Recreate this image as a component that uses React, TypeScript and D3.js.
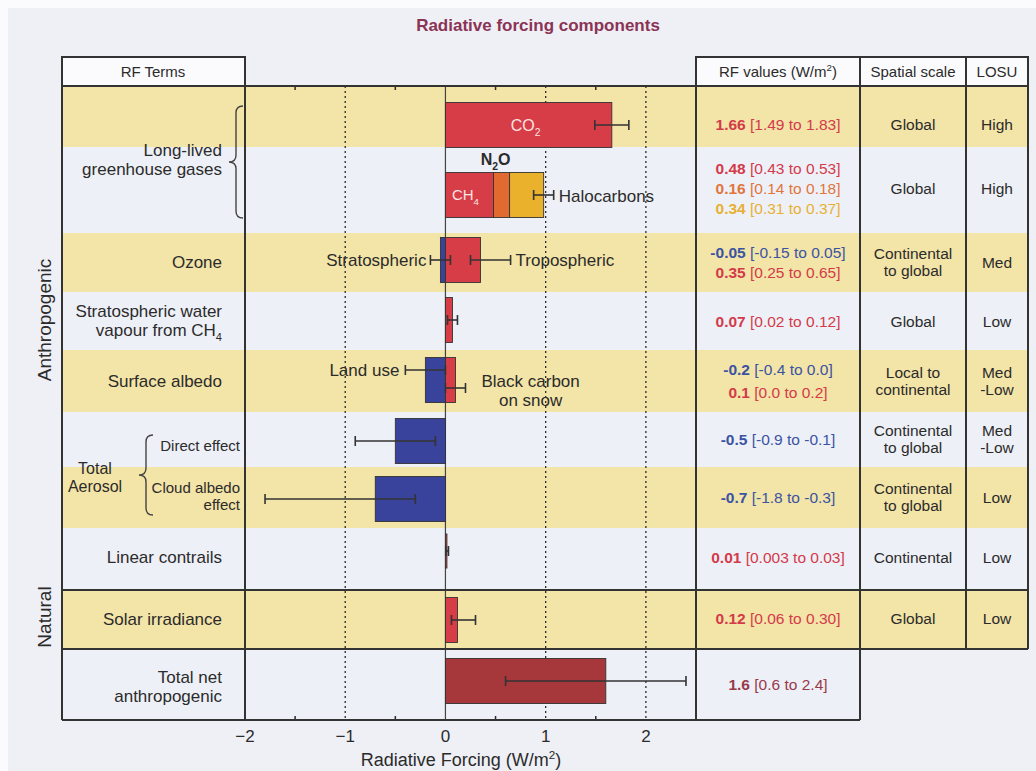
import React from 'react';
import * as d3 from 'd3';

// RF terms, in the order they are drawn and listed in the table
const terms = [
  'CO2', 'CH4', 'N2O', 'Halocarbons',
  'Stratospheric ozone', 'Tropospheric ozone',
  'Stratospheric water vapour',
  'Land use', 'Black carbon on snow',
  'Direct effect', 'Cloud albedo effect',
  'Linear contrails', 'Solar irradiance', 'Total net anthropogenic',
];
const rfBest = [1.66, 0.48, 0.16, 0.34, -0.05, 0.35, 0.07, -0.2, 0.1, -0.5, -0.7, 0.01, 0.12, 1.6];
const rfLow = [1.49, 0.43, 0.14, 0.31, -0.15, 0.25, 0.02, -0.4, 0.0, -0.9, -1.8, 0.003, 0.06, 0.6];
const rfHigh = [1.83, 0.53, 0.18, 0.37, 0.05, 0.65, 0.12, 0.0, 0.2, -0.1, -0.3, 0.03, 0.30, 2.4];
const rfDecimals = [2, 2, 2, 2, 2, 2, 2, 1, 1, 1, 1, 2, 2, 1];
const termRow = [0, 1, 1, 1, 2, 2, 3, 4, 4, 5, 6, 7, 8, 9];
const termKind = ['warm', 'warm', 'n2o', 'halo', 'cool', 'warm', 'warm', 'cool', 'warm', 'cool', 'cool', 'warm', 'warm', 'total'];
// the CH4 / N2O / halocarbon bars are stacked on one line
const stackedTerms = ['CH4', 'N2O', 'Halocarbons'];

const spatialScale = ['Global', 'Global', 'Continental|to global', 'Global', 'Local to|continental',
  'Continental|to global', 'Continental|to global', 'Continental', 'Global', ''];
const losu = ['High', 'High', 'Med', 'Low', 'Med|-Low', 'Med|-Low', 'Low', 'Low', 'Low', ''];

const xDomain = [-2, 2.5];
const xTickValues = [-2, -1, 0, 1, 2];
const xMinorTicks = [-1.5, -0.5, 0.5, 1.5];
const gridValues = [-1, 1, 2];

// ---- layout ----
const W = 1036, H = 771;
const YELLOW = '#f3e4a7';
const WHITE = '#eef0f7';
const PAGE = '#eff0f6';
const INK = '#2b2b2b';
const FONT = '"Liberation Sans", Arial, Helvetica, sans-serif';

const kindFill: Record<string, string> = {
  warm: '#d63d47', n2o: '#e06a30', halo: '#e9b12c', cool: '#39439b', total: '#a6383c',
};
const kindText: Record<string, string> = {
  warm: '#d33a4a', n2o: '#e0763c', halo: '#e7b032', cool: '#3a53a3', total: '#983a4a',
};

const ROWS = [
  { top: 86, bottom: 147, bar: 125, text: 124 },
  { top: 147, bottom: 233, bar: 195, text: 188 },
  { top: 233, bottom: 292, bar: 260, text: 262 },
  { top: 292, bottom: 350, bar: 320, text: 321 },
  { top: 350, bottom: 412, bar: 380, text: 381 },
  { top: 412, bottom: 467, bar: 441, text: 439 },
  { top: 467, bottom: 528, bar: 499, text: 497 },
  { top: 528, bottom: 590, bar: 551, text: 557 },
  { top: 590, bottom: 649, bar: 620, text: 618 },
  { top: 649, bottom: 720, bar: 681, text: 684 },
];
const errOffset: Record<string, number> = { 'Land use': -10, 'Black carbon on snow': 8 };

const COL = { left: 62, chartL: 245, chartR: 696, rf: 696, spatial: 860, losu: 966, right: 1028 };
const HEAD_TOP = 57, HEAD_BOT = 86;

const termLabels = [
  { lines: ['Long-lived', 'greenhouse gases'], x: 222, y: 159, size: 17 },
  { lines: ['Ozone'], x: 222, y: 262, size: 17 },
  { lines: ['Stratospheric water', 'vapour from CH_4'], x: 222, y: 320, size: 17 },
  { lines: ['Surface albedo'], x: 222, y: 381, size: 17 },
  { lines: ['Direct effect'], x: 240, y: 446, size: 15 },
  { lines: ['Cloud albedo', 'effect'], x: 240, y: 496, size: 15 },
  { lines: ['Linear contrails'], x: 222, y: 557, size: 17 },
  { lines: ['Solar irradiance'], x: 222, y: 619, size: 17 },
  { lines: ['Total net', 'anthropogenic'], x: 222, y: 686, size: 17 },
];

// text with "_x" subscripts and "^x" superscripts
function Rich({ s, size }: { s: string; size: number }) {
  const parts: React.ReactNode[] = [];
  const re = /([_^])(\w)/g;
  let last = 0;
  let carry = 0;
  let m: RegExpExecArray | null;
  let k = 0;
  while ((m = re.exec(s))) {
    const d = m[1] === '_' ? size * 0.3 : -size * 0.4;
    if (m.index > last) {
      parts.push(<tspan key={k++} dy={carry || undefined}>{s.slice(last, m.index)}</tspan>);
      carry = 0;
    }
    parts.push(<tspan key={k++} dy={carry + d} fontSize={size * 0.65}>{m[2]}</tspan>);
    carry = -d;
    last = m.index + 2;
  }
  if (last < s.length) parts.push(<tspan key={k++} dy={carry || undefined}>{s.slice(last)}</tspan>);
  return <>{parts}</>;
}

function Lines({ lines, x, y, size, anchor = 'end', fill = INK, gap = 1.12, weight = 'normal' }:
  { lines: string[]; x: number; y: number; size: number; anchor?: string; fill?: string; gap?: number; weight?: string }) {
  const lh = size * gap;
  const y0 = y - ((lines.length - 1) * lh) / 2 + size * 0.36;
  return (
    <text textAnchor={anchor} fontSize={size} fill={fill} fontWeight={weight}>
      {lines.map((l, i) => (
        <tspan key={i} x={x} y={y0 + i * lh}>
          <Rich s={l} size={size} />
        </tspan>
      ))}
    </text>
  );
}

function brace(x: number, y1: number, y2: number, w: number) {
  const ym = (y1 + y2) / 2;
  return `M${x + w},${y1} Q${x},${y1} ${x},${y1 + w} L${x},${ym - w} Q${x},${ym} ${x - w},${ym}`
    + ` Q${x},${ym} ${x},${ym + w} L${x},${y2 - w} Q${x},${y2} ${x + w},${y2}`;
}

function fmt(v: number, dec: number) {
  let s = v.toFixed(dec);
  if (+s !== v) s = String(v);
  return s;
}

export default function App() {
  const x = d3.scaleLinear().domain(xDomain).range([COL.chartL, COL.chartR]);

  // bar extents: stacked terms start where the previous one ends
  const bars = terms.map((t, i) => {
    let x0 = 0;
    const si = stackedTerms.indexOf(t);
    if (si > 0) x0 = d3.sum(stackedTerms.slice(0, si), s => rfBest[terms.indexOf(s)]);
    return { term: t, i, x0, x1: x0 + rfBest[i], row: termRow[i], kind: termKind[i] };
  });

  // error bars: one combined bar for the stacked gases
  const stackIdx = stackedTerms.map(s => terms.indexOf(s));
  const errors = terms
    .map((t, i) => ({ term: t, lo: rfLow[i], hi: rfHigh[i], row: termRow[i] }))
    .filter(e => !stackedTerms.includes(e.term));
  errors.push({
    term: 'stack',
    lo: d3.sum(stackIdx, i => rfLow[i]),
    hi: d3.sum(stackIdx, i => rfHigh[i]),
    row: termRow[stackIdx[0]],
  });

  const barH = (t: string) => (t === 'Linear contrails' ? 34 : 45);

  return (
    <svg width={W} height={H} style={{ position: 'absolute', left: 0, top: 0 }} fontFamily={FONT}>
      <rect width={W} height={H} fill="#fbfbfd" />
      <rect x={8} y={8} width={W - 8} height={H - 8} fill={PAGE} />

      <text x={538} y={31} textAnchor="middle" fontSize={17} fontWeight="bold" fill="#8b3355">
        Radiative forcing components
      </text>

      {/* row stripes */}
      {ROWS.map((r, i) => (
        <rect key={i} x={COL.left} y={r.top} width={(i === 9 ? COL.spatial : COL.right) - COL.left}
          height={r.bottom - r.top} fill={i % 2 === 0 ? YELLOW : WHITE} />
      ))}
      <rect x={COL.left} y={HEAD_TOP} width={COL.chartL - COL.left} height={HEAD_BOT - HEAD_TOP} fill="#fbfbfd" />
      <rect x={COL.rf} y={HEAD_TOP} width={COL.right - COL.rf} height={HEAD_BOT - HEAD_TOP} fill="#fbfbfd" />

      {/* grid lines */}
      {gridValues.map(v => (
        <line key={v} x1={x(v)} x2={x(v)} y1={HEAD_BOT} y2={720} stroke={INK} strokeWidth={1.3} strokeDasharray="2,3" />
      ))}
      <line x1={x(0)} x2={x(0)} y1={HEAD_BOT} y2={720} stroke="#444" strokeWidth={1.2} />
      {xMinorTicks.map(v => (
        <g key={v}>
          <line x1={x(v)} x2={x(v)} y1={HEAD_BOT} y2={HEAD_BOT + 4} stroke={INK} strokeWidth={1.5} />
          <line x1={x(v)} x2={x(v)} y1={720} y2={716} stroke={INK} strokeWidth={1.5} />
        </g>
      ))}

      {/* bars */}
      {bars.map(b => {
        const r = ROWS[b.row];
        const h = barH(b.term);
        const xa = x(Math.min(b.x0, b.x1));
        const w = Math.max(Math.abs(x(b.x1) - x(b.x0)), 1.5);
        return (
          <rect key={b.term} x={xa} y={r.bar - h / 2} width={w} height={h}
            fill={kindFill[b.kind]} stroke="#333" strokeWidth={0.9} />
        );
      })}

      {/* error bars */}
      {errors.map(e => {
        const y = ROWS[e.row].bar + (errOffset[e.term] || 0);
        return (
          <g key={e.term} stroke="#333" strokeWidth={1.6}>
            <line x1={x(e.lo)} x2={x(e.hi)} y1={y} y2={y} />
            <line x1={x(e.lo)} x2={x(e.lo)} y1={y - 5} y2={y + 5} />
            <line x1={x(e.hi)} x2={x(e.hi)} y1={y - 5} y2={y + 5} />
          </g>
        );
      })}

      {/* in-chart labels */}
      <g fontSize={17} fill={INK}>
        <text x={x(0.8)} y={ROWS[0].bar + 6} textAnchor="middle" fill="#fbe3e3" fontSize={16}>
          <Rich s="CO_2" size={16} />
        </text>
        <text x={x(0.5)} y={165} textAnchor="middle" fontWeight="bold" fontSize={16}>
          <Rich s="N_2O" size={16} />
        </text>
        <text x={x(0.2)} y={ROWS[1].bar + 5} textAnchor="middle" fill="#fbe3e3" fontSize={15}>
          <Rich s="CH_4" size={15} />
        </text>
        <text x={x(d3.sum(stackIdx, i => rfHigh[i])) + 5} y={ROWS[1].bar + 7}>Halocarbons</text>
        <text x={x(rfLow[4]) - 4} y={ROWS[2].bar + 6} textAnchor="end">Stratospheric</text>
        <text x={x(rfHigh[5]) + 5} y={ROWS[2].bar + 6}>Tropospheric</text>
        <text x={x(rfLow[7]) - 6} y={ROWS[4].bar - 4} textAnchor="end">Land use</text>
        <text x={x(0.85)} y={ROWS[4].bar + 7} textAnchor="middle">Black carbon</text>
        <text x={x(0.85)} y={ROWS[4].bar + 26} textAnchor="middle">on snow</text>
      </g>

      {/* left term labels */}
      {termLabels.map((l, i) => (
        <Lines key={i} lines={l.lines} x={l.x} y={l.y} size={l.size} />
      ))}
      <Lines lines={['Total', 'Aerosol']} x={95} y={477} size={16} anchor="middle" />
      <path d={brace(236, 106, 218, 7)} fill="none" stroke="#444" strokeWidth={1.4} />
      <path d={brace(146, 435, 515, 7)} fill="none" stroke="#444" strokeWidth={1.4} />

      <text transform={`translate(51,320) rotate(-90)`} textAnchor="middle" fontSize={19} fill={INK}>Anthropogenic</text>
      <text transform={`translate(51,617) rotate(-90)`} textAnchor="middle" fontSize={19} fill={INK}>Natural</text>

      {/* headers */}
      <g fontSize={15} fill={INK} textAnchor="middle">
        <text x={153} y={77}>RF Terms</text>
        <text x={(COL.rf + COL.spatial) / 2} y={77}><Rich s="RF values (W/m^2)" size={15} /></text>
        <text x={(COL.spatial + COL.losu) / 2} y={77}>Spatial scale</text>
        <text x={(COL.losu + COL.right) / 2} y={77}>LOSU</text>
      </g>

      {/* RF value column */}
      {ROWS.map((r, ri) => {
        const idx = terms.map((_, i) => i).filter(i => termRow[i] === ri);
        const lh = ri === 4 ? 23 : 20;
        return idx.map((ti, k) => {
          const y = r.text - ((idx.length - 1) * lh) / 2 + k * lh + 5.5;
          return (
            <text key={ti} x={(COL.rf + COL.spatial) / 2} y={y} textAnchor="middle" fontSize={15.5} fill={kindText[termKind[ti]]}>
              <tspan fontWeight="bold">{fmt(rfBest[ti], rfDecimals[ti])}</tspan>
              {` [${fmt(rfLow[ti], rfDecimals[ti])} to ${fmt(rfHigh[ti], rfDecimals[ti])}]`}
            </text>
          );
        });
      })}
      {ROWS.map((r, ri) => (
        <g key={ri}>
          {spatialScale[ri] && (
            <Lines lines={spatialScale[ri].split('|')} x={(COL.spatial + COL.losu) / 2} y={r.text} size={15.5} anchor="middle" />
          )}
          {losu[ri] && (
            <Lines lines={losu[ri].split('|')} x={(COL.losu + COL.right) / 2} y={r.text} size={15.5} anchor="middle" />
          )}
        </g>
      ))}

      {/* frame */}
      <g stroke="#333" strokeWidth={2} fill="none">
        <rect x={COL.left} y={HEAD_TOP} width={COL.chartL - COL.left} height={HEAD_BOT - HEAD_TOP} />
        <rect x={COL.rf} y={HEAD_TOP} width={COL.right - COL.rf} height={HEAD_BOT - HEAD_TOP} />
        <line x1={COL.left} x2={COL.right} y1={HEAD_BOT} y2={HEAD_BOT} />
        <line x1={COL.left} x2={COL.left} y1={HEAD_TOP} y2={720} />
        <line x1={COL.chartL} x2={COL.chartL} y1={HEAD_TOP} y2={720} />
        <line x1={COL.rf} x2={COL.rf} y1={HEAD_TOP} y2={720} />
        <line x1={COL.spatial} x2={COL.spatial} y1={HEAD_TOP} y2={720} />
        <line x1={COL.losu} x2={COL.losu} y1={HEAD_TOP} y2={649} />
        <line x1={COL.right} x2={COL.right} y1={HEAD_TOP} y2={649} />
        <line x1={COL.left} x2={COL.right} y1={590} y2={590} />
        <line x1={COL.left} x2={COL.right} y1={649} y2={649} />
        <line x1={COL.left} x2={COL.spatial} y1={720} y2={720} />
      </g>

      {/* x axis */}
      {xTickValues.map(v => (
        <text key={v} x={x(v)} y={742} textAnchor="middle" fontSize={17} fill={INK}>
          {v < 0 ? `\u2212${Math.abs(v)}` : v}
        </text>
      ))}
      <text x={461} y={766} textAnchor="middle" fontSize={18} fill={INK}>
        <Rich s="Radiative Forcing (W/m^2)" size={18} />
      </text>
    </svg>
  );
}
